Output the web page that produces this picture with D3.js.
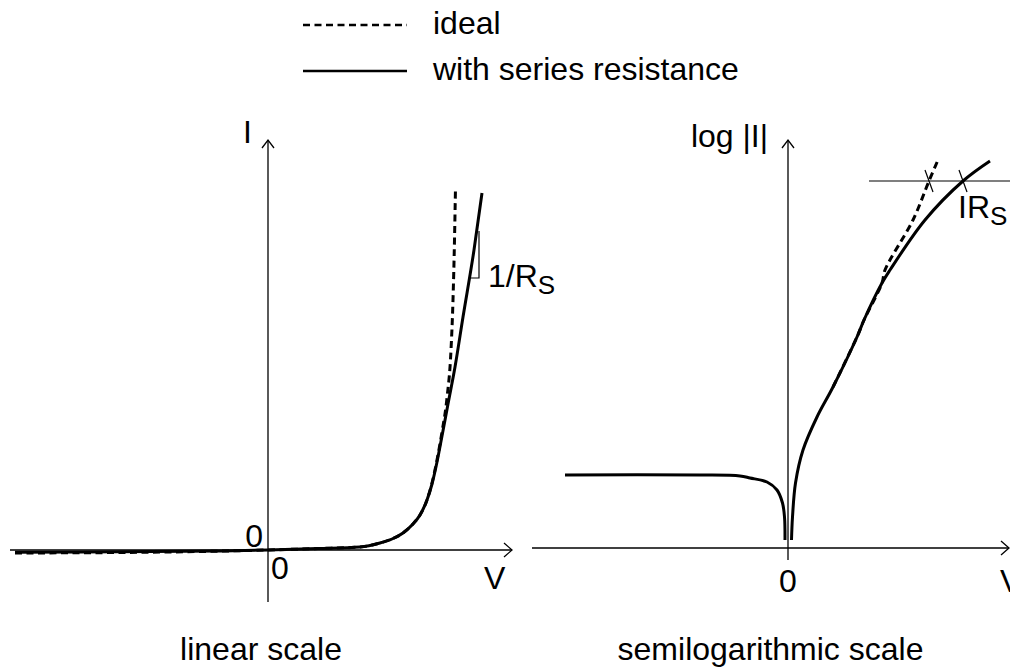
<!DOCTYPE html>
<html>
<head>
<meta charset="utf-8">
<script src="https://cdn.jsdelivr.net/npm/d3@7"></script>
<style>
  body { margin: 0; background: #fff; }
  svg { display: block; }
  text { font-family: "Liberation Sans", Arial, Helvetica, sans-serif; fill: #000; }
</style>
</head>
<body>
<script>
// linear panel: V and I (arbitrary units)
const linV = [-2.53, -1.5, -0.5, 0, 0.5, 0.92, 1.12, 1.24, 1.35, 1.44, 1.52, 1.59, 1.64, 1.69, 1.74, 1.80, 1.87, 1.95, 2.06, 2.14];
const linISeries = [-0.022, -0.018, -0.01, 0, 0.015, 0.03, 0.07, 0.11, 0.17, 0.25, 0.35, 0.50, 0.66, 0.88, 1.14, 1.46, 1.83, 2.33, 3.0, 3.57];
const linVIdeal = [-2.53, -1.5, -0.5, 0, 0.5, 0.92, 1.12, 1.24, 1.35, 1.44, 1.52, 1.59, 1.64, 1.69, 1.74, 1.79, 1.83, 1.85, 1.865, 1.875];
const linIIdeal = [-0.03, -0.025, -0.012, 0, 0.015, 0.03, 0.07, 0.11, 0.17, 0.25, 0.35, 0.50, 0.67, 0.90, 1.18, 1.52, 2.0, 2.5, 3.1, 3.63];
// slope triangle (1/Rs)
const slopeV = [2.025, 2.11, 2.11];
const slopeI = [2.72, 2.72, 3.19];

// semilog panel: log|I|, reverse and forward branches
const revV = [-2.23, -0.88, -0.48, -0.38, -0.21, -0.11, -0.055, -0.035, -0.03];
const revLogI = [0.73, 0.73, 0.72, 0.70, 0.66, 0.58, 0.45, 0.31, 0.08];
const fwdV = [0.035, 0.045, 0.075, 0.15, 0.29, 0.45, 0.69, 0.76, 0.94, 1.02, 1.37, 1.75, 2.02];
const fwdLogI = [0.08, 0.31, 0.65, 0.98, 1.31, 1.61, 2.11, 2.28, 2.65, 2.78, 3.28, 3.67, 3.87];
const idealFwdV = [0.45, 0.69, 0.76, 0.94, 0.97, 1.25, 1.41, 1.50];
const idealFwdLogI = [1.61, 2.11, 2.28, 2.65, 2.78, 3.28, 3.67, 3.88];
// IRs marker: level and crossing voltages (ideal, with series resistance)
const irsLevel = 3.67;
const irsLineV = [0.81, 2.3];
const irsCrossV = [1.41, 1.75];

const legendItems = ["ideal", "with series resistance"];
const panelTitles = ["linear scale", "semilogarithmic scale"];

const width = 1010, height = 669;
const svg = d3.select("body").append("svg")
  .attr("width", width).attr("height", height);

const FONT = 32;
const dash = "7,4.5";

// scales
const xL = d3.scaleLinear().domain([-2.58, 2.44]).range([10, 512]);
const yL = d3.scaleLinear().domain([-0.52, 4.10]).range([602, 140]);
const xR = d3.scaleLinear().domain([-2.56, 2.21]).range([532, 1009]);
const yR = d3.scaleLinear().domain([-0.12, 4.08]).range([560, 140]);

function zip(a, b) { return a.map((v, i) => [v, b[i]]); }

function drawAxes(x, y) {
  const g = svg.append("g").attr("stroke", "#000").attr("stroke-width", 1.3).attr("fill", "none");
  const [x0, x1] = x.range();
  const [y0, y1] = y.range();
  const ox = x(0), oy = y(0);
  g.append("line").attr("x1", x0).attr("x2", x1).attr("y1", oy).attr("y2", oy);
  g.append("line").attr("x1", ox).attr("x2", ox).attr("y1", y0).attr("y2", y1);
  g.append("path").attr("d", `M${x1 - 8},${oy - 7}L${x1},${oy}L${x1 - 8},${oy + 7}`);
  g.append("path").attr("d", `M${ox - 6},${y1 + 8}L${ox},${y1}L${ox + 6},${y1 + 8}`);
}

function curve(x, y, pts, dashed, shape) {
  const line = d3.line().x(d => x(d[0])).y(d => y(d[1]))
    .curve(shape || d3.curveCatmullRom.alpha(0.5));
  svg.append("path")
    .attr("d", line(pts))
    .attr("fill", "none")
    .attr("stroke", "#000")
    .attr("stroke-width", 3)
    .attr("stroke-dasharray", dashed ? dash : null);
}

function label(x, y, txt, anchor) {
  return svg.append("text")
    .attr("x", x).attr("y", y)
    .attr("font-size", FONT)
    .attr("text-anchor", anchor || "start")
    .text(txt);
}

function subLabel(x, y, main, sub) {
  const t = label(x, y, main);
  t.append("tspan").attr("font-size", 26).attr("dy", 7).text(sub);
}

// ---- linear panel
drawAxes(xL, yL);
curve(xL, yL, zip(linVIdeal, linIIdeal), true, d3.curveMonotoneX);
curve(xL, yL, zip(linV, linISeries), false, d3.curveMonotoneX);

svg.append("path")
  .attr("d", d3.line().x(d => xL(d[0])).y(d => yL(d[1]))(zip(slopeV, slopeI)))
  .attr("fill", "none").attr("stroke", "#000").attr("stroke-width", 1.2);

label(xL(0) - 25, yL(4.10) + 3, "I");
label(xL(0) - 5, yL(0) - 3, "0", "end");
label(xL(0) + 3, yL(0) + 29, "0");
label(xL.range()[1] - 28, yL(0) + 39, "V");
subLabel(xL(slopeV[1]) + 9, yL(slopeI[0]) + 9, "1/R", "S");

// ---- semilog panel
drawAxes(xR, yR);
curve(xR, yR, zip(idealFwdV, idealFwdLogI), true);
curve(xR, yR, zip(revV, revLogI), false);
curve(xR, yR, zip(fwdV, fwdLogI), false);

const ann = svg.append("g").attr("stroke", "#000").attr("stroke-width", 1.2);
ann.append("line")
  .attr("x1", xR(irsLineV[0])).attr("x2", xR(irsLineV[1]))
  .attr("y1", yR(irsLevel)).attr("y2", yR(irsLevel));
irsCrossV.forEach(v => {
  ann.append("line")
    .attr("x1", xR(v) - 4).attr("y1", yR(irsLevel) - 11)
    .attr("x2", xR(v) + 4).attr("y2", yR(irsLevel) + 11);
});

label(xR(0) - 20, yR(4.08) + 7, "log |I|", "end");
label(xR(0), yR(0) + 44, "0", "middle");
label(xR.range()[1] - 9, yR(0) + 44, "V");
subLabel(xR(irsCrossV[1]) - 5, yR(irsLevel) + 37, "IR", "S");

// ---- legend
const legend = svg.append("g");
legendItems.forEach((name, i) => {
  const ly = 25 + i * 46;
  legend.append("line")
    .attr("x1", 303).attr("x2", 407).attr("y1", ly).attr("y2", ly)
    .attr("stroke", "#000").attr("stroke-width", 2.5)
    .attr("stroke-dasharray", i === 0 ? dash : null);
  legend.append("text")
    .attr("x", 433).attr("y", ly + 9)
    .attr("font-size", FONT)
    .text(name);
});

// ---- panel titles, centred under each panel
label(d3.mean(xL.range()), 660, panelTitles[0], "middle");
label(d3.mean(xR.range()), 660, panelTitles[1], "middle");
</script>
</body>
</html>
